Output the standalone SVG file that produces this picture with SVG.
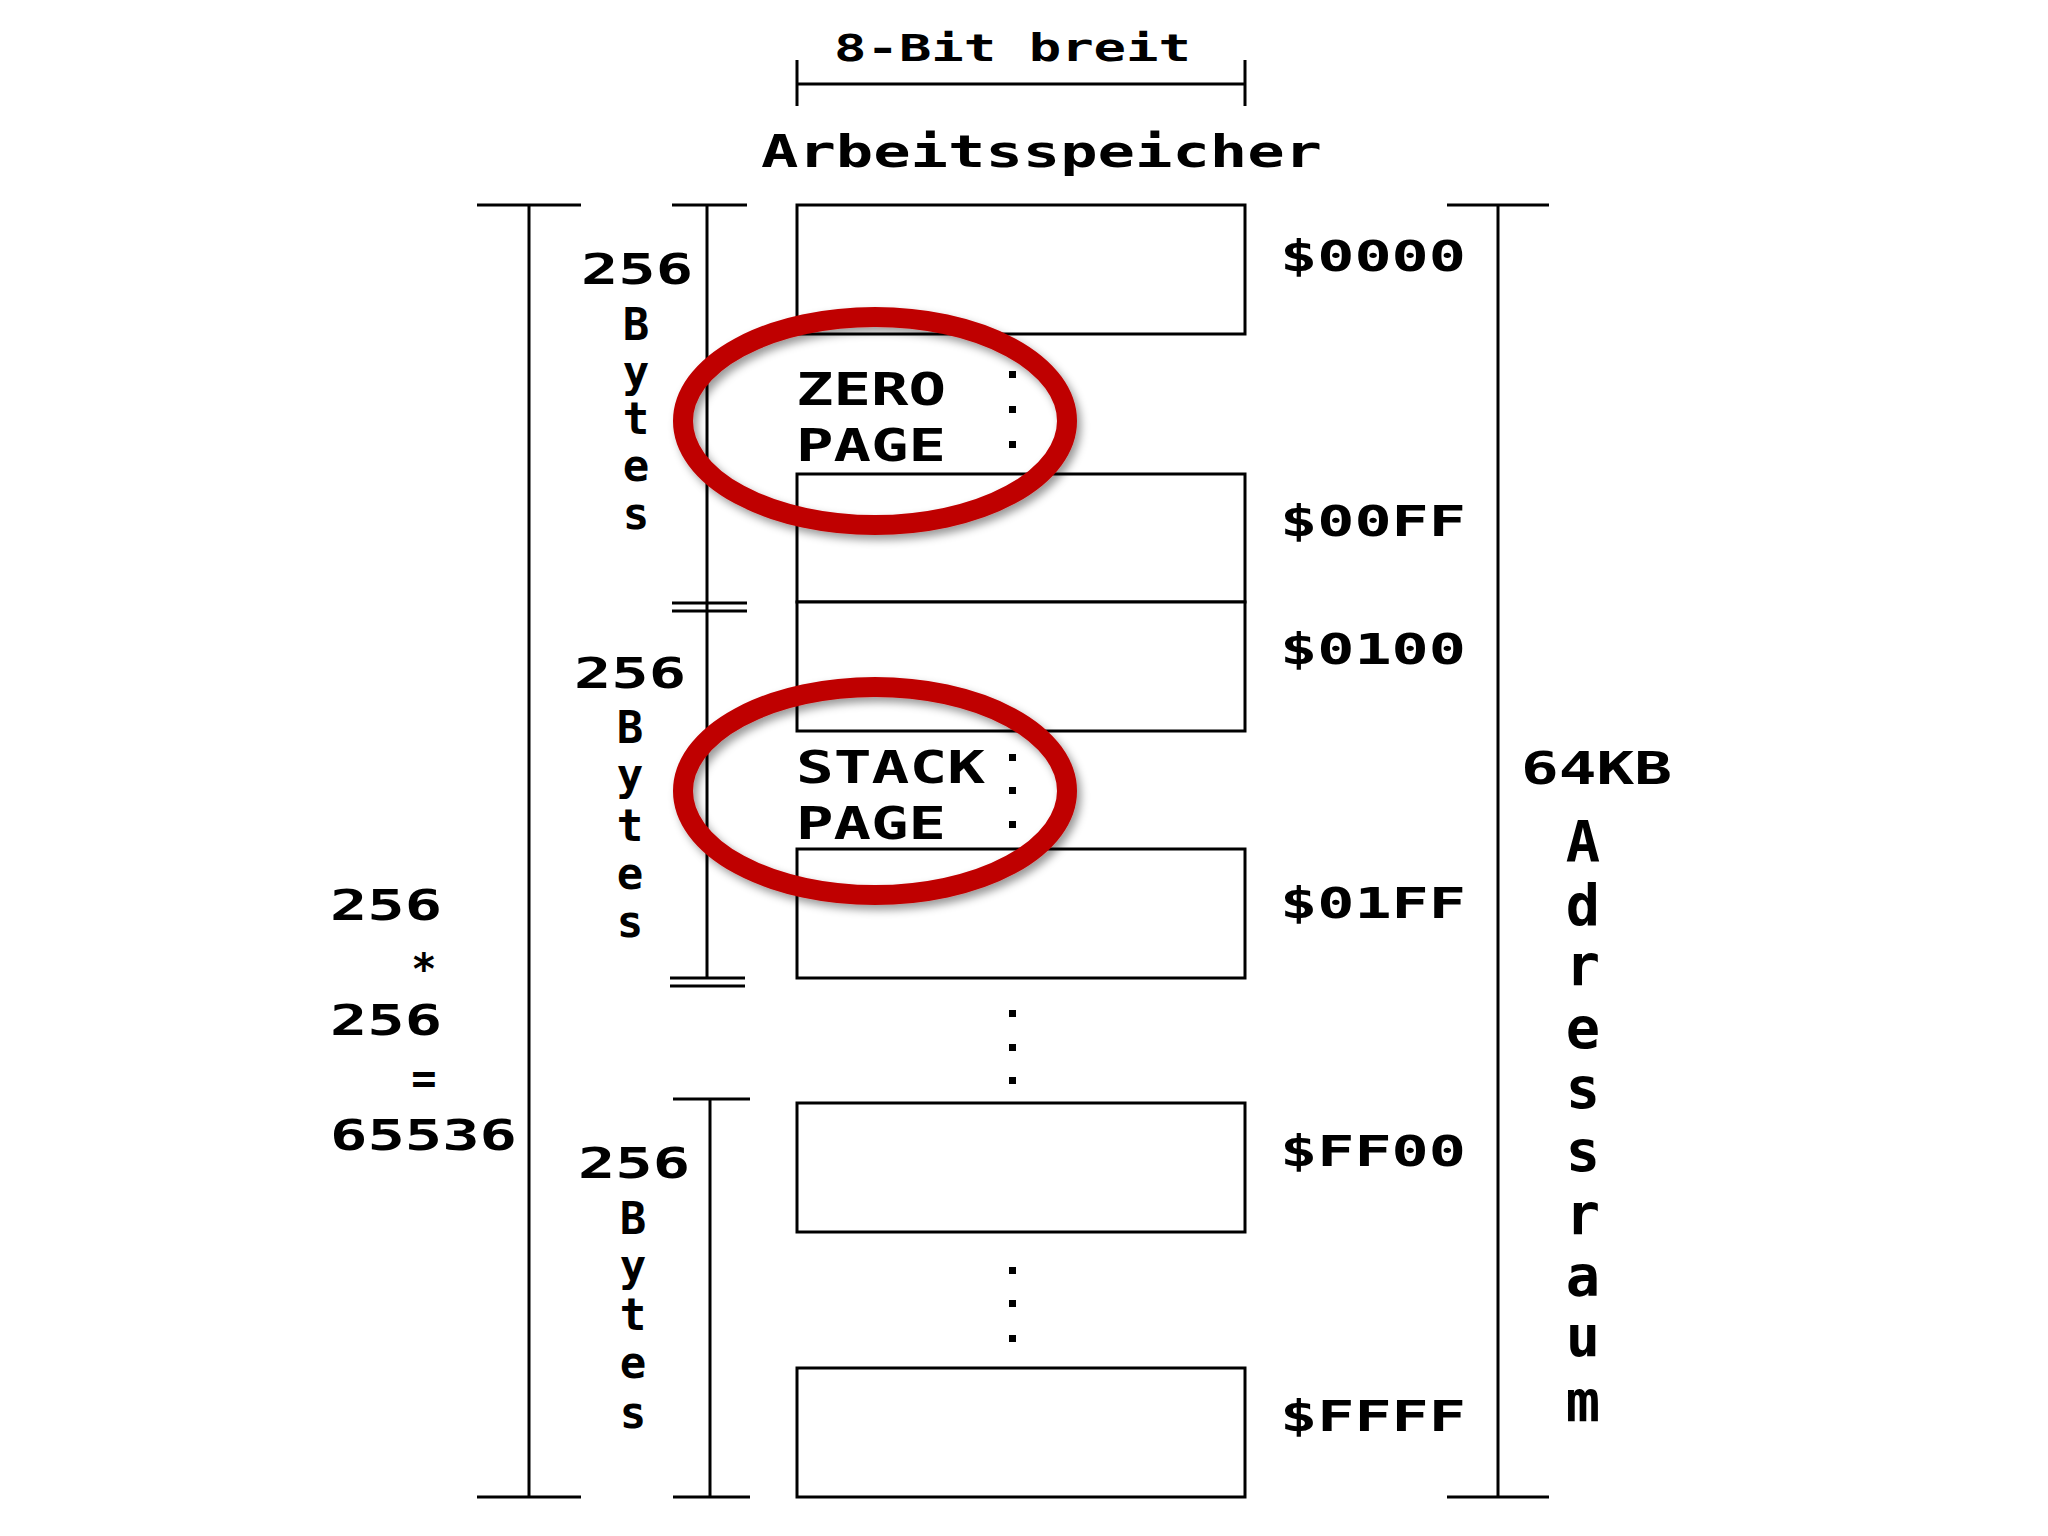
<svg xmlns="http://www.w3.org/2000/svg" width="2048" height="1536" viewBox="0 0 2048 1536">
  <style>
    .t { font-family: "DejaVu Sans Mono", "Liberation Mono", monospace; font-weight: bold; fill: #000; }
    .f37 { font-size: 37px; }
    .f42 { font-size: 42px; }
    .f44 { font-size: 44px; }
    .f45 { font-size: 45px; }
    .f57 { font-size: 57px; }
    .box { fill: #fff; stroke: #000; stroke-width: 3; }
    .ln { stroke: #000; stroke-width: 3; fill: none; }
    .dot { fill: #000; }
    .ring { fill: none; stroke: #bf0000; stroke-width: 20; filter: url(#shadow); }
  </style>
  <defs>
    <filter id="shadow" x="-15%" y="-20%" width="135%" height="145%">
      <feDropShadow dx="4" dy="5" stdDeviation="4" flood-color="#000" flood-opacity="0.4"/>
    </filter>
  </defs>
  <rect width="2048" height="1536" fill="#fff"/>

  <g id="title-width">
    <text class="t f37" x="834" y="61" textLength="357" lengthAdjust="spacingAndGlyphs">8-Bit breit</text>
  </g>
  <g id="title">
    <text class="t f44" x="761" y="167" textLength="561" lengthAdjust="spacingAndGlyphs">Arbeitsspeicher</text>
  </g>

  <g id="memory-boxes">
    <g id="box-0000"><rect class="box" x="797" y="205" width="448" height="129"/></g>
    <g id="box-00ff"><rect class="box" x="797" y="474" width="448" height="128"/></g>
    <g id="box-0100"><rect class="box" x="797" y="602" width="448" height="129"/></g>
    <g id="box-01ff"><rect class="box" x="797" y="849" width="448" height="129"/></g>
    <g id="box-ff00"><rect class="box" x="797" y="1103" width="448" height="129"/></g>
    <g id="box-ffff"><rect class="box" x="797" y="1368" width="448" height="129"/></g>
  </g>

  <g id="page-labels">
    <g id="zero-page">
      <text class="t f45" x="796" y="405" textLength="150" lengthAdjust="spacingAndGlyphs">ZERO</text>
      <text class="t f45" x="796" y="461" textLength="150" lengthAdjust="spacingAndGlyphs">PAGE</text>
    </g>
    <g id="stack-page">
      <text class="t f45" x="796" y="783" textLength="189" lengthAdjust="spacingAndGlyphs">STACK</text>
      <text class="t f45" x="796" y="839" textLength="150" lengthAdjust="spacingAndGlyphs">PAGE</text>
    </g>
  </g>

  <g id="ellipsis-dots">
    <rect class="dot" x="1009" y="371" width="7" height="7"/>
    <rect class="dot" x="1009" y="406" width="7" height="7"/>
    <rect class="dot" x="1009" y="441" width="7" height="7"/>
    <rect class="dot" x="1009" y="754" width="7" height="7"/>
    <rect class="dot" x="1009" y="787" width="7" height="7"/>
    <rect class="dot" x="1009" y="821" width="7" height="7"/>
    <rect class="dot" x="1009" y="1010" width="7" height="7"/>
    <rect class="dot" x="1009" y="1044" width="7" height="7"/>
    <rect class="dot" x="1009" y="1077" width="7" height="7"/>
    <rect class="dot" x="1009" y="1267" width="7" height="7"/>
    <rect class="dot" x="1009" y="1300" width="7" height="7"/>
    <rect class="dot" x="1009" y="1335" width="7" height="7"/>
  </g>

  <g id="address-labels">
    <text class="t f42" x="1280" y="271" textLength="186" lengthAdjust="spacingAndGlyphs">$0000</text>
    <text class="t f42" x="1280" y="536" textLength="186" lengthAdjust="spacingAndGlyphs">$00FF</text>
    <text class="t f42" x="1280" y="664" textLength="186" lengthAdjust="spacingAndGlyphs">$0100</text>
    <text class="t f42" x="1280" y="918" textLength="186" lengthAdjust="spacingAndGlyphs">$01FF</text>
    <text class="t f42" x="1280" y="1166" textLength="186" lengthAdjust="spacingAndGlyphs">$FF00</text>
    <text class="t f42" x="1280" y="1431" textLength="186" lengthAdjust="spacingAndGlyphs">$FFFF</text>
  </g>

  <g id="page-size-labels">
    <g id="size-zero">
      <text class="t f42" x="581" y="284" textLength="112" lengthAdjust="spacingAndGlyphs">256</text>
      <text class="t f44" x="636" y="340" text-anchor="middle">B</text>
      <text class="t f44" x="636" y="387" text-anchor="middle">y</text>
      <text class="t f44" x="636" y="434" text-anchor="middle">t</text>
      <text class="t f44" x="636" y="481" text-anchor="middle">e</text>
      <text class="t f44" x="636" y="529" text-anchor="middle">s</text>
    </g>
    <g id="size-stack">
      <text class="t f42" x="574" y="688" textLength="112" lengthAdjust="spacingAndGlyphs">256</text>
      <text class="t f44" x="630" y="743" text-anchor="middle">B</text>
      <text class="t f44" x="630" y="790" text-anchor="middle">y</text>
      <text class="t f44" x="630" y="841" text-anchor="middle">t</text>
      <text class="t f44" x="630" y="889" text-anchor="middle">e</text>
      <text class="t f44" x="630" y="937" text-anchor="middle">s</text>
    </g>
    <g id="size-last">
      <text class="t f42" x="578" y="1178" textLength="112" lengthAdjust="spacingAndGlyphs">256</text>
      <text class="t f44" x="633" y="1234" text-anchor="middle">B</text>
      <text class="t f44" x="633" y="1281" text-anchor="middle">y</text>
      <text class="t f44" x="633" y="1330" text-anchor="middle">t</text>
      <text class="t f44" x="633" y="1378" text-anchor="middle">e</text>
      <text class="t f44" x="633" y="1428" text-anchor="middle">s</text>
    </g>
  </g>

  <g id="total-calc">
    <text class="t f42" x="330" y="920" textLength="112" lengthAdjust="spacingAndGlyphs">256</text>
    <text class="t f42" x="424" y="984" text-anchor="middle">*</text>
    <text class="t f42" x="330" y="1035" textLength="112" lengthAdjust="spacingAndGlyphs">256</text>
    <text class="t f42" x="424" y="1093" text-anchor="middle">=</text>
    <text class="t f42" x="330" y="1150" textLength="187" lengthAdjust="spacingAndGlyphs">65536</text>
  </g>

  <g id="address-space">
    <text class="t f45" x="1521" y="784" textLength="151" lengthAdjust="spacingAndGlyphs">64KB</text>
    <text class="t f57" x="1583" y="862" text-anchor="middle">A</text>
    <text class="t f57" x="1583" y="925" text-anchor="middle">d</text>
    <text class="t f57" x="1583" y="985" text-anchor="middle">r</text>
    <text class="t f57" x="1583" y="1048" text-anchor="middle">e</text>
    <text class="t f57" x="1583" y="1108" text-anchor="middle">s</text>
    <text class="t f57" x="1583" y="1171" text-anchor="middle">s</text>
    <text class="t f57" x="1583" y="1234" text-anchor="middle">r</text>
    <text class="t f57" x="1583" y="1296" text-anchor="middle">a</text>
    <text class="t f57" x="1583" y="1356" text-anchor="middle">u</text>
    <text class="t f57" x="1583" y="1421" text-anchor="middle">m</text>
  </g>

  <g id="connectors">
    <!-- width bracket -->
    <path class="ln" d="M797 84 H1245 M797 60 V106 M1245 60 V106"/>
    <!-- total left bracket -->
    <path class="ln" d="M529 205 V1497 M477 205 H581 M477 1497 H581"/>
    <!-- inner page brackets -->
    <path class="ln" d="M707 205 V978 M672 205 H747 M672 603 H747 M672 611 H747 M670 978 H745 M670 986 H745"/>
    <path class="ln" d="M710 1099 V1497 M673 1099 H750 M673 1497 H750"/>
    <!-- address space bracket -->
    <path class="ln" d="M1498 205 V1497 M1447 205 H1549 M1447 1497 H1549"/>
  </g>

  <g id="highlights">
    <ellipse class="ring" cx="875" cy="421" rx="192" ry="104"/>
    <ellipse class="ring" cx="875" cy="791" rx="192" ry="104"/>
  </g>
</svg>
